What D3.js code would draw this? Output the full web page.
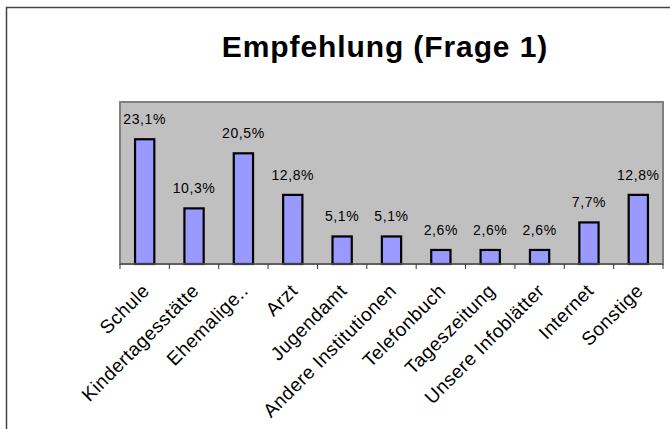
<!DOCTYPE html>
<html><head><meta charset="utf-8">
<script src="https://cdn.jsdelivr.net/npm/d3@7"></script>
<style>body{margin:0;background:#fff}svg{display:block}</style>
</head><body>
<script>
const categories = ["Schule","Kindertagesstätte","Ehemalige..","Arzt","Jugendamt","Andere Institutionen","Telefonbuch","Tageszeitung","Unsere Infoblätter","Internet","Sonstige"];
const values = [23.1,10.3,20.5,12.8,5.1,5.1,2.6,2.6,2.6,7.7,12.8];
const labels = ["23,1%","10,3%","20,5%","12,8%","5,1%","5,1%","2,6%","2,6%","2,6%","7,7%","12,8%"];
const title = "Empfehlung (Frage 1)";
const yMax = 30;

const W = 670, H = 429;
const plot = {left:120, right:663, top:102, bottom:264};
const svg = d3.select("body").append("svg").attr("width",W).attr("height",H);
const font = "Liberation Sans, Arial, sans-serif";

svg.append("rect").attr("x",6.5).attr("y",7.5).attr("width",700).attr("height",500)
  .attr("fill","#fff").attr("stroke","#444").attr("stroke-width",1.5);

svg.append("text").attr("x",385).attr("y",57).attr("text-anchor","middle")
  .attr("font-family",font).attr("font-weight","bold").attr("font-size",30)
  .attr("letter-spacing",0.9).text(title);

const x = d3.scaleBand().domain(categories).range([plot.left,plot.right]).padding(0);
const y = d3.scaleLinear().domain([0,yMax]).range([plot.bottom,plot.top]);

svg.append("rect").attr("x",plot.left).attr("y",plot.top)
  .attr("width",plot.right-plot.left).attr("height",plot.bottom-plot.top)
  .attr("fill","#c0c0c0").attr("stroke","#808080").attr("stroke-width",2);

const bw = x.bandwidth()*0.39;
svg.append("g").selectAll("rect").data(values).join("rect")
  .attr("x",(d,i)=>x(categories[i])+x.bandwidth()/2-bw/2)
  .attr("y",d=>y(d))
  .attr("width",bw)
  .attr("height",d=>y(0)-y(d))
  .attr("fill","#9999ff").attr("stroke","#000").attr("stroke-width",2.2);

svg.append("g").selectAll("text").data(values).join("text")
  .attr("x",(d,i)=>x(categories[i])+x.bandwidth()/2)
  .attr("y",d=>y(d)-15)
  .attr("text-anchor","middle").attr("font-family",font).attr("font-size",14)
  .attr("letter-spacing",0.6)
  .text((d,i)=>labels[i]);

// axis
const ax = svg.append("g").attr("transform",`translate(0,${plot.bottom})`);
ax.append("line").attr("x1",plot.left).attr("x2",plot.right).attr("stroke","#555").attr("stroke-width",1.5);
const tickPos = categories.map(c=>x(c)).concat([plot.right]);
ax.selectAll("line.t").data(tickPos).join("line").attr("class","t")
  .attr("x1",d=>d).attr("x2",d=>d).attr("y1",0).attr("y2",5)
  .attr("stroke","#333").attr("stroke-width",1);

svg.append("g").selectAll("text").data(categories).join("text")
  .attr("transform",c=>`translate(${x(c)+x.bandwidth()/2+6},${plot.bottom+28}) rotate(-45)`)
  .attr("text-anchor","end").attr("font-family",font).attr("font-size",19)
  .attr("letter-spacing",0.5)
  .text(c=>c);
</script>
</body></html>
